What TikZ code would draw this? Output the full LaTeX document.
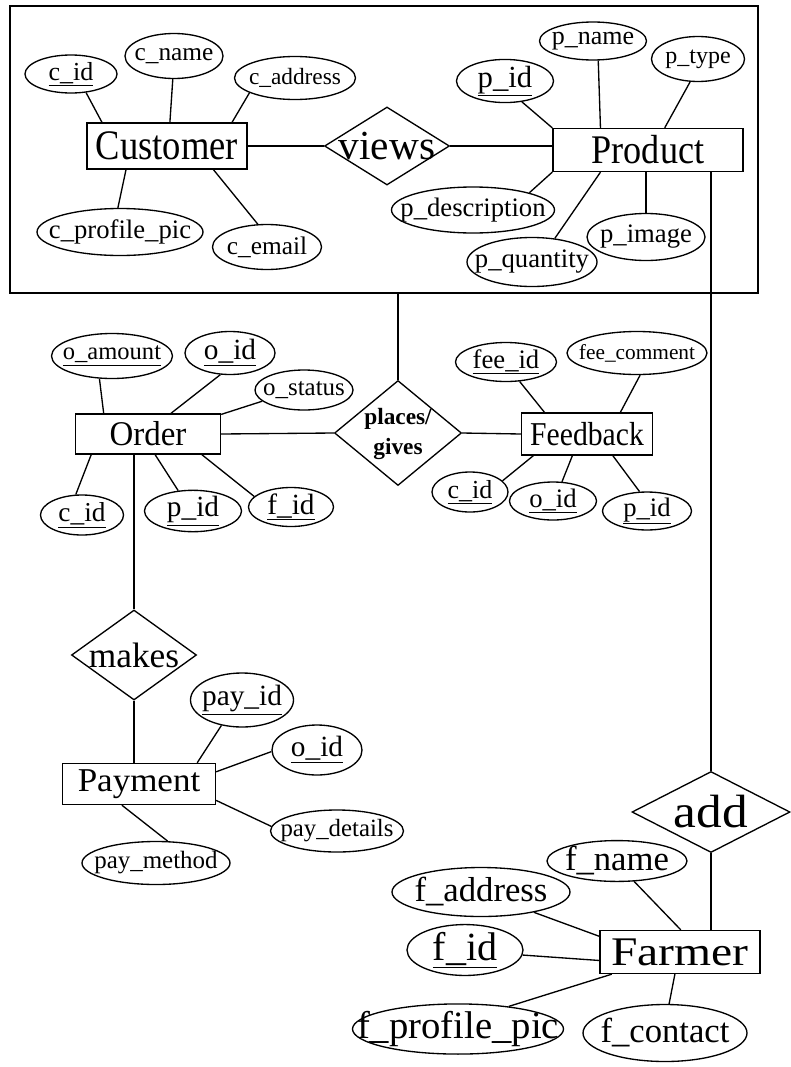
\documentclass[tikz,border=0pt]{standalone}
\usepackage{fontspec}
\setmainfont{Liberation Serif}
\usetikzlibrary{shapes.geometric}
\newcommand{\zw}[1]{\makebox[0pt]{#1}}

\begin{document}
\begin{tikzpicture}[x=0.75pt, y=-0.75pt, line width=1pt,
	entity/.style={draw, rectangle, inner sep=0pt},
	attrib/.style={draw, ellipse, inner sep=0pt},
	relship/.style={draw, diamond, inner sep=0pt},
	sz/.style 2 args={minimum width=#1*0.75pt, minimum height=#2*0.75pt},
	fs/.style={font=\fontsize{#1}{#1}\selectfont},
	fx/.style 2 args={font=\fontsize{#1}{#1}\selectfont\addfontfeature{FakeStretch=#2}}]
	\useasboundingbox (0,0) rectangle (791,1067);
	% frame round customer and product
	\node[draw, line width=1.2pt, sz={748}{287}] (frame) at (384,149.5) {};
	% entities
	\node[entity, sz={160}{46}, fx={31.5}{0.87}] (cust) at (167,146) {\zw{Customer}};
	\node[entity, sz={190}{43}, fx={30.5}{0.89}] (prod) at (648,150) {\zw{Product}};
	\node[entity, sz={145}{40}, fx={26}{0.95}] (order) at (148,434) {\zw{Order}};
	\node[entity, sz={131}{42}, fx={25}{0.89}] (feed) at (587,434) {\zw{Feedback}};
	\node[entity, sz={153}{41}, fx={25}{1.05}] (pay) at (139,784) {\zw{Payment}};
	\node[entity, sz={160}{43}, fx={30.5}{1.17}] (farm) at (680,952) {\zw{Farmer}};
	% relationships
	\node[relship, sz={125}{78}, fs=31] (views) at (387,146) {\zw{views}};
	\node[relship, sz={127}{105}, font=\fontsize{17.5}{22.5}\selectfont\bfseries] (places) at (398,433)
		{\zw{\begin{tabular}{@{}c@{}}places/\\gives\end{tabular}}};
	\node[relship, sz={125}{90}, fs=26.5] (makes) at (134,655) {\zw{makes}};
	\node[relship, sz={158}{81}, fx={35}{1.1}] (add) at (711,812) {\zw{add}};
	% customer attributes
	\node[attrib, sz={92}{38}, fs=19.5] (cid) at (71,74) {\zw{\underline{c\_id}}};
	\node[attrib, sz={98}{45}, fs=19] (cname) at (174,56) {\zw{c\_name}};
	\node[attrib, sz={121}{43}, fs=17.5] (caddr) at (295,78) {\zw{c\_address}};
	\node[attrib, sz={166}{47}, fs=20] (cpic) at (120,232) {\zw{c\_profile\_pic}};
	\node[attrib, sz={109}{45}, fs=19] (cmail) at (267,247) {\zw{c\_email}};
	% product attributes
	\node[attrib, sz={107}{38}, fs=19.5] (pname) at (593,41) {\zw{p\_name}};
	\node[attrib, sz={93}{45}, fs=18] (ptype) at (698,59) {\zw{p\_type}};
	\node[attrib, sz={97}{42}, fs=23] (pid) at (505,81) {\zw{\underline{p\_id}}};
	\node[attrib, sz={163}{46}, fs=20] (pdesc) at (473,210) {\zw{p\_description}};
	\node[attrib, sz={130}{49}, fs=20] (pqty) at (532,262) {\zw{p\_quantity}};
	\node[attrib, sz={118}{47}, fs=20] (pimg) at (646,237) {\zw{p\_image}};
	% order attributes
	\node[attrib, sz={121}{45}, fs=18.4] (oamt) at (112,356) {\zw{\underline{o\_amount}}};
	\node[attrib, sz={90}{43}, fs=22] (oid) at (230,353) {\zw{\underline{o\_id}}};
	\node[attrib, sz={98}{40}, fs=18.7] (ostat) at (304,390) {\zw{o\_status}};
	\node[attrib, sz={83}{40}, fs=20.5] (ocid) at (82,515) {\zw{\underline{c\_id}}};
	\node[attrib, sz={97}{37}, fs=22] (opid) at (193,511) {\zw{\underline{p\_id}}};
	\node[attrib, sz={85}{39}, fs=22] (ofid) at (291,507) {\zw{\underline{f\_id}}};
	% feedback attributes
	\node[attrib, sz={101}{39}, fs=20] (feeid) at (506,362) {\zw{\underline{fee\_id}}};
	\node[attrib, sz={140}{43}, fs=16] (feecom) at (637,353) {\zw{fee\_comment}};
	\node[attrib, sz={76}{40}, fs=19.5] (fcid) at (470,492) {\zw{\underline{c\_id}}};
	\node[attrib, sz={87}{38}, fs=20] (foid) at (553,501) {\zw{\underline{o\_id}}};
	\node[attrib, sz={89}{37}, fs=20] (fpid) at (647,511) {\zw{\underline{p\_id}}};
	% payment attributes
	\node[attrib, sz={103}{54}, fs=22] (payid) at (242,700) {\zw{\underline{pay\_id}}};
	\node[attrib, sz={90}{50}, fs=22] (payoid) at (317,750) {\zw{\underline{o\_id}}};
	\node[attrib, sz={133}{42}, fs=18.6] (paydet) at (337,831) {\zw{pay\_details}};
	\node[attrib, sz={148}{43}, fs=18.7] (paymeth) at (156,863) {\zw{pay\_method}};
	% farmer attributes
	\node[attrib, sz={140}{37}, fs=26] (fname) at (617,861) {\zw{f\_name}};
	\node[attrib, sz={178}{49}, fs=26] (faddr) at (481,892) {\zw{f\_address}};
	\node[attrib, sz={116}{45}, fs=30] (fid) at (465,950) {\zw{\underline{f\_id}}};
	\node[attrib, sz={211}{50}, fs=29] (fpic) at (458,1029) {\zw{f\_profile\_pic}};
	\node[attrib, sz={164}{57}, fs=26] (fcont) at (665,1033) {\zw{f\_contact}};
	% attribute links
	\foreach \a/\aa/\e/\ea in {cid/-51/cust/160, cname/267/cust/83, caddr/198/cust/20,
		cpic/95/cust/-150, cmail/112/cust/-27,
		pid/-51/prod/167, pname/-75/prod/155, ptype/-109/prod/53, pdesc/17/prod/193, pqty/46/prod/-155,
		oamt/-119/order/155, oid/-114/order/42, ostat/195/order/15,
		ocid/107/order/-160, opid/126/order/-71, ofid/164/order/-21,
		feeid/-55/feed/153, feecom/-82/feed/33, fcid/19/feed/-158, foid/65/feed/-124, fpid/111/feed/-40,
		payid/-129/pay/20, payoid/182/pay/9, paydet/176/pay/-12, paymeth/62/pay/-129,
		fname/-50/farm/88, faddr/-21/farm/169, fid/-5/farm/186, fpic/24/farm/-162, fcont/82/farm/-103}
		\draw (\a.\aa) -- (\e.\ea);
	\draw (pimg.north) -- (pimg.north |- prod.south);
	% relationship links
	\draw (cust.east) -- (views.west);
	\draw (views.east) -- (views.east -| prod.west);
	\draw (places.north |- frame.south) -- (places.north);
	\draw (order.east) -- (places.west);
	\draw (places.east) -- (feed.west);
	\draw (makes.north |- order.south) -- (makes.north);
	\draw (makes.south) -- (makes.south |- pay.north);
	\draw (add.north |- prod.south) -- (add.north);
	\draw (add.south) -- (add.south |- farm.north);
\end{tikzpicture}
\end{document}
